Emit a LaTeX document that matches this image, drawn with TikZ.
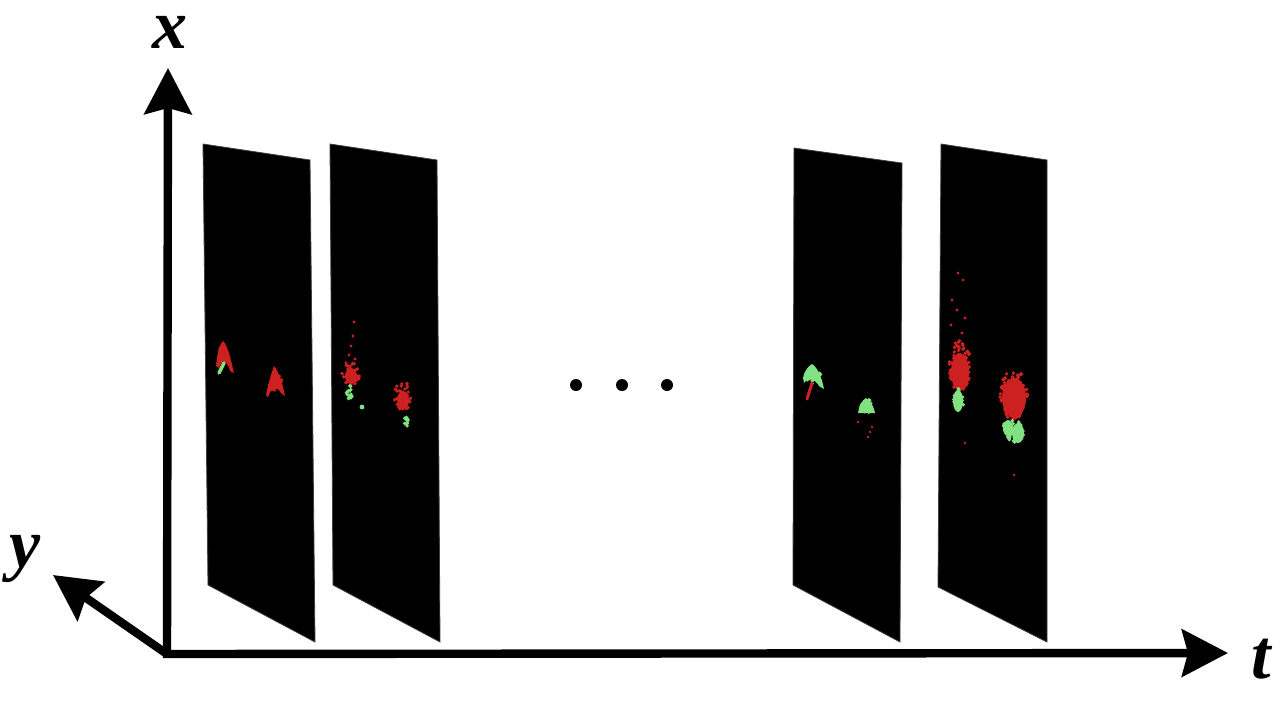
\documentclass[tikz,border=0pt]{standalone}
\usepackage{fontspec}
\setmainfont{Liberation Serif}
\usetikzlibrary{arrows.meta}
\definecolor{spotred}{RGB}{205,32,32}
\definecolor{spotgreen}{RGB}{128,226,128}
\newcommand\myspots[6]{% colour, cx, cy, rx, ry, n
  \foreach \k in {1,...,#6}{%
    \pgfmathsetmacro\aa{360*rnd}\pgfmathsetmacro\rr{sqrt(rnd)}%
    \fill[#1] ({#2+#4*\rr*cos(\aa)},{#3+#5*\rr*sin(\aa)}) circle[radius=1.9];}}
\begin{document}
\begin{tikzpicture}[x=0.5pt,y=-0.5pt,
  axis/.style={line width=4.2pt, line join=miter},
  bigtip/.style={-{Stealth[length=23pt,width=23.5pt,inset=3pt]}},
  panel/.style={fill=black, draw=black!75, line width=0.4pt},
  lbl/.style={font=\fontsize{35}{35}\selectfont\bfseries\itshape, inner sep=0pt, anchor=base},
  dotn/.style={circle, fill=black, minimum size=6pt, inner sep=0pt}]
\pgfmathsetseed{7}
\useasboundingbox (0,0) rectangle (1280,714);

% panels
\fill[panel] (203,144) -- (310,160) -- (315,642) -- (208,585) -- cycle;
\fill[panel] (330,144) -- (437,160) -- (440,642) -- (333,585) -- cycle;
\fill[panel] (794,148) -- (902,163) -- (900,642) -- (793,585) -- cycle;
\fill[panel] (941,144) -- (1047,160) -- (1047,642) -- (938,587) -- cycle;

% panel 1 spots
\fill[spotred] (223,341) .. controls (228,346) and (231,360) .. (234,373) -- (230,371) .. controls (228,362) and (222,358) .. (219,368) -- (216,366) .. controls (217,355) and (219,345) .. (223,341);
\myspots{spotred}{224}{354}{6}{8}{10}
\draw[spotgreen, line width=1.7pt, line cap=round] (224,363) -- (219,373);
\fill[spotred] (274,366) .. controls (279,372) and (283,385) .. (285,396) -- (281,393) .. controls (277,386) and (272,386) .. (268,397) -- (266,395) .. controls (268,385) and (271,374) .. (274,366);
\myspots{spotred}{275}{382}{7}{9}{12}

% panel 2 spots
\fill[spotred] (351,376) ellipse[x radius=6, y radius=8];
\myspots{spotred}{351}{374}{9}{11}{35}
\foreach \p in {(354,322),(353,336),(351,346),(349,355),(355,359),(346,363)} \fill[spotred] \p circle[radius=1.6];
\myspots{spotgreen}{349}{393}{3.5}{8}{16}
\fill[spotgreen] (362,407) circle[radius=2.4];
\fill[spotred] (403,400) ellipse[x radius=6, y radius=9];
\myspots{spotred}{403}{396}{9}{14}{40}
\myspots{spotgreen}{407}{422}{3}{6}{12}

% panel 3 spots
\fill[spotgreen] (812,364) .. controls (818,368) and (822,378) .. (824,389) -- (819,386) .. controls (816,379) and (808,377) .. (804,383) -- (803,378) .. controls (804,372) and (808,366) .. (812,364);
\myspots{spotgreen}{813}{376}{8}{8}{12}
\draw[spotred, line width=1.5pt, line cap=round] (812,383) -- (807,399);
\fill[spotgreen] (866,398) .. controls (872,402) and (874,408) .. (875,413) -- (858,413) .. controls (859,406) and (862,400) .. (866,398);
\myspots{spotgreen}{866}{406}{8}{7}{12}
\foreach \p in {(858,422),(872,427),(868,437),(870,432)} \fill[spotred] \p circle[radius=1.3];

% panel 4 spots
\fill[spotred] (960,372) ellipse[x radius=9, y radius=19];
\myspots{spotred}{960}{366}{11}{26}{100}
\foreach \p in {(958,273),(963,280),(952,300),(957,310),(965,318),(951,325),(962,333)} \fill[spotred] \p circle[radius=1.6];
\fill[spotgreen] (958,401) ellipse[x radius=5, y radius=11];
\myspots{spotgreen}{958}{400}{6}{13}{25}
\fill[spotred] (1014,398) ellipse[x radius=12, y radius=20];
\myspots{spotred}{1014}{395}{14}{25}{120}
\fill[spotgreen] (1008,428) ellipse[x radius=5, y radius=8];
\fill[spotgreen] (1018,433) ellipse[x radius=6, y radius=10];
\myspots{spotgreen}{1013}{431}{11}{13}{40}
\foreach \p in {(965,443),(1014,475)} \fill[spotred] \p circle[radius=1.3];

% ellipsis dots
\node[dotn] (d1) at (576,385) {};
\node[dotn] (d2) at (622,385) {};
\node[dotn] (d3) at (667,385) {};

% axes
\coordinate (O) at (167,654);
\coordinate (xtip) at (168,68);
\coordinate (ttip) at (1228,653);
\coordinate (ytip) at (53,575);
\draw[axis, {Stealth[length=23pt,width=23.5pt,inset=3pt]}-{Stealth[length=23pt,width=23.5pt,inset=3pt]}] (xtip) -- (O) -- (ttip);
\draw[axis, bigtip] (O) -- (ytip);

% labels
\node[lbl, text height=0.5em] (lx) at (170,48) {x};
\node[lbl] (ly) at (25,567) {y};
\node[lbl] (lt) at (1261,678) {t};
\end{tikzpicture}
\end{document}
